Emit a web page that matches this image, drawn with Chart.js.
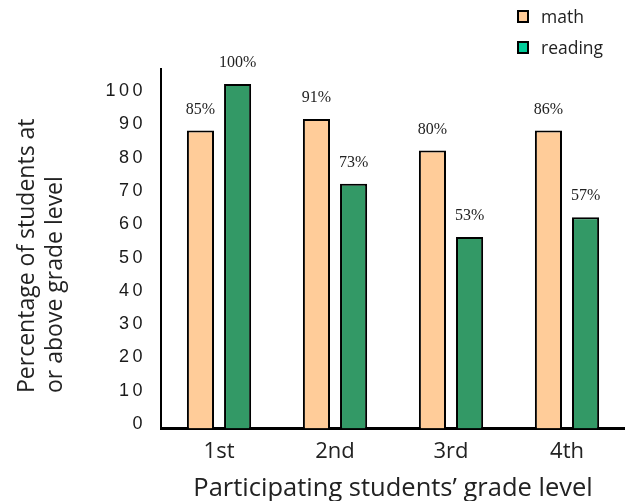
<!DOCTYPE html>
<html>
<head>
<meta charset="utf-8">
<script src="https://cdn.jsdelivr.net/npm/chart.js@4/dist/chart.umd.min.js"></script>
<style>
  html, body { margin: 0; padding: 0; background: #fff; }
  canvas { display: block; }
</style>
</head>
<body>
<canvas id="myChart" width="625" height="501"></canvas>
<script>
// data
const grades = ['1st', '2nd', '3rd', '4th'];
const mathValues = [89.5, 93, 83.5, 89.5];
const readingValues = [103.5, 73.5, 57.5, 63.5];
// the printed percentages above each bar
const mathLabels = ['85%', '91%', '80%', '86%'];
const readingLabels = ['100%', '73%', '53%', '57%'];
const yTitleLines = ['Percentage of students at', 'or above grade level'];
const xTitle = 'Participating students\u2019 grade level';

const mathColor = '#ffcc99';
const readingColor = '#339966';
const legendColors = ['#ffcc99', '#00cc99'];

// labels on top of the bars, y title and legend
const barLabels = {
  id: 'barLabels',
  beforeDraw(chart) {
    chart.ctx.letterSpacing = '0px';
  },
  afterDatasetsDraw(chart) {
    const ctx = chart.ctx;
    const texts = [mathLabels, readingLabels];
    ctx.save();
    ctx.font = '16px "Liberation Serif"';
    ctx.fillStyle = '#222';
    ctx.textAlign = 'center';
    ctx.textBaseline = 'middle';
    chart.data.datasets.forEach((ds, i) => {
      chart.getDatasetMeta(i).data.forEach((bar, j) => {
        ctx.fillText(texts[i][j], bar.x, bar.y - 21);
      });
    });
    ctx.restore();
    // y tick labels are drawn after this (ticks z: 1) with wide spacing
    ctx.letterSpacing = '3.5px';
  },
  afterDraw(chart) {
    const ctx = chart.ctx;
    ctx.letterSpacing = '0px';
    ctx.save();
    // y axis title, two lines, starting from the bottom
    ctx.font = '23px "Open Sans"';
    ctx.fillStyle = '#222';
    ctx.textAlign = 'left';
    ctx.textBaseline = 'middle';
    yTitleLines.forEach((line, i) => {
      ctx.save();
      ctx.translate(27 + i * 28, 393);
      ctx.rotate(-Math.PI / 2);
      ctx.fillText(line, 0, 0);
      ctx.restore();
    });
    // legend, one item per row, top right
    ctx.font = '17.5px "Open Sans"';
    chart.data.datasets.forEach((ds, i) => {
      const y = 17 + i * 31;
      ctx.fillStyle = legendColors[i];
      ctx.fillRect(518, y - 6, 10, 11);
      ctx.strokeStyle = '#000';
      ctx.lineWidth = 2;
      ctx.strokeRect(518, y - 6, 10, 11);
      ctx.fillStyle = '#222';
      ctx.fillText(ds.label, 541, y + 1);
    });
    ctx.restore();
  },
};

const ctx = document.getElementById('myChart').getContext('2d');
const myChart = new Chart(ctx, {
  type: 'bar',
  data: {
    labels: grades,
    datasets: [
      {
        label: 'math',
        data: mathValues,
        backgroundColor: mathColor,
        borderColor: '#000',
        borderWidth: 2,
      },
      {
        label: 'reading',
        data: readingValues,
        backgroundColor: readingColor,
        borderColor: '#000',
        borderWidth: 2,
      },
    ],
  },
  options: {
    responsive: false,
    animation: false,
    categoryPercentage: 0.64,
    barPercentage: 0.73,
    layout: {
      padding: { left: 101, top: 69, right: 0, bottom: 0 },
    },
    plugins: {
      legend: { display: false },
      tooltip: { enabled: false },
    },
    scales: {
      x: {
        grid: { display: false, drawTicks: false },
        border: { color: '#000', width: 3 },
        ticks: {
          color: '#222',
          font: { family: 'Open Sans', size: 22 },
          padding: 10,
        },
        title: {
          display: true,
          text: xTitle,
          color: '#222',
          font: { family: 'Open Sans', size: 25.5, lineHeight: 1.1 },
          padding: { top: 0, bottom: -2 },
        },
      },
      y: {
        min: 0,
        max: 108,
        grid: { display: false, drawTicks: false },
        border: { color: '#000', width: 2 },
        ticks: {
          stepSize: 10,
          includeBounds: false,
          color: '#1a1a1a',
          font: { family: 'Liberation Sans', size: 18 },
          padding: 15,
          labelOffset: -4.5,
          z: 1,
        },
      },
    },
  },
  plugins: [barLabels],
});
</script>
</body>
</html>
